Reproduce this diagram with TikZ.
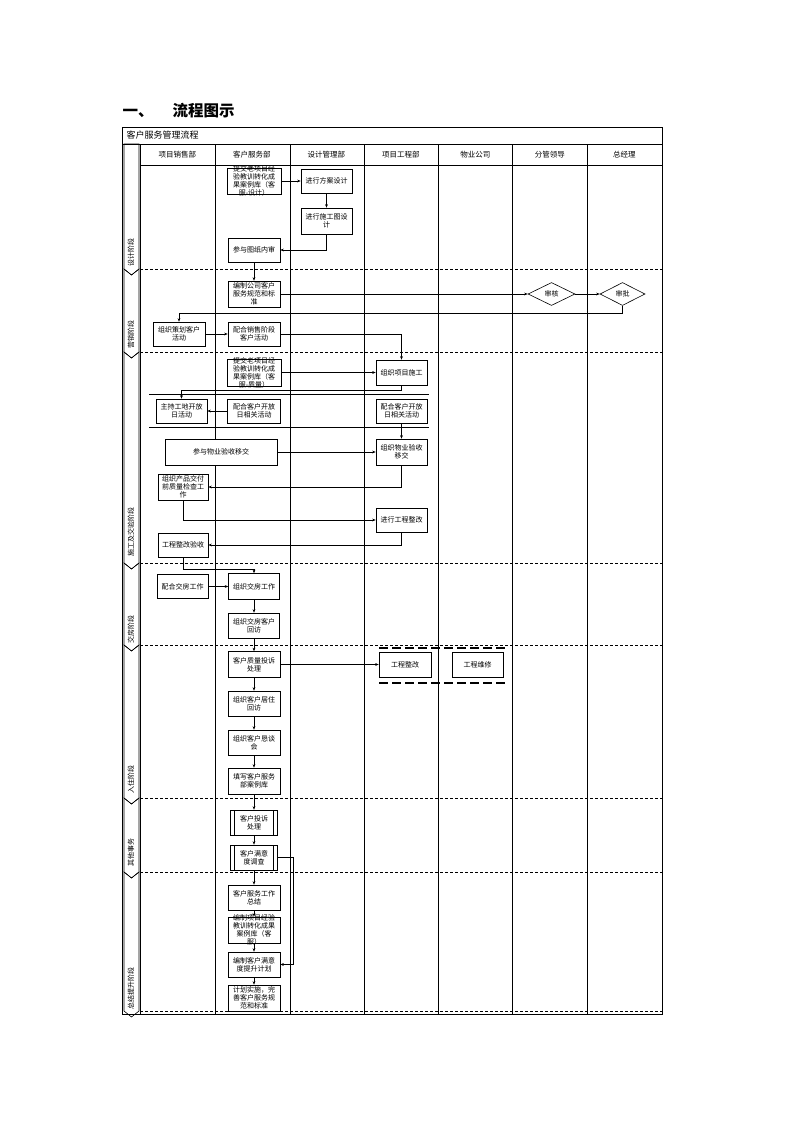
\documentclass[tikz,border=0pt]{standalone}
\usepackage{fontspec}
\setmainfont{Noto Sans CJK SC}
\usepackage{tikz}
\usetikzlibrary{arrows.meta,shapes.geometric}

\begin{document}
\begin{tikzpicture}[x=1pt,y=-1pt,>={Stealth[length=3.5pt,width=2.8pt]}]
\tikzstyle{box}=[draw,fill=white,line width=0.6pt,minimum width=52pt,minimum height=25pt,inner sep=0pt,align=center,font=\fontsize{7}{8}\selectfont]
\tikzstyle{proc}=[box,minimum width=47pt,path picture={
  \draw ([xshift=4pt]path picture bounding box.north west) -- ([xshift=4pt]path picture bounding box.south west);
  \draw ([xshift=-4pt]path picture bounding box.north east) -- ([xshift=-4pt]path picture bounding box.south east);}]
\tikzstyle{dec}=[diamond,draw,fill=white,line width=0.6pt,inner sep=0pt,minimum width=47pt,minimum height=23pt,font=\fontsize{7}{8}\selectfont]
\tikzstyle{over}=[font=\fontsize{7}{8}\selectfont,align=center]
\tikzstyle{head}=[font=\fontsize{7.5}{9}\selectfont]
\tikzstyle{phase}=[rotate=90,font=\fontsize{7}{8}\selectfont]
\tikzstyle{grid}=[line width=0.8pt]
\tikzstyle{stage}=[draw,line width=0.6pt]
\tikzstyle{divider}=[line width=0.8pt,dash pattern=on 3pt off 2pt]
\tikzstyle{flow}=[->,line width=0.5pt]
\useasboundingbox (0,0) rectangle (793,1122);

\node[anchor=west,font=\fontsize{15.5}{18}\selectfont\bfseries] (title) at (119,111) {一、\hspace{19pt}流程图示};

\draw[grid] (122,127) rectangle (662,1014);
\draw[grid] (122,144) -- (662,144);
\draw[grid] (140,165) -- (662,165);
\foreach \x in {140,215,290,364,438,512,587}
  \draw[grid] (\x,144) -- (\x,1014);
\foreach \y in {269,352,563,645,798,872,1011}
  \draw[divider] (140,\y) -- (662,\y);
\draw[line width=0.6pt] (149,394) -- (429,394);
\draw[line width=0.6pt] (149,427) -- (429,427);

\node[anchor=west,font=\fontsize{9}{10}\selectfont] (name) at (123,135.5) {客户服务管理流程};
\foreach \t [count=\i] in {项目销售部,客户服务部,设计管理部,项目工程部,物业公司,分管领导,总经理}
  \node[head] (col\i) at ({140+74.5*(\i-0.5)},154.5) {\t};

\draw[stage] (124,144) -- (139,144) -- (139,269) -- (131.5,275) -- (124,269) -- cycle;
\foreach \t/\b in {269/352,352/563,563/645,645/798,798/872,872/1011}
  \draw[stage] (124,\t) -- (131.5,\t+6) -- (139,\t) -- (139,\b) -- (131.5,\b+6) -- (124,\b) -- cycle;
\node[phase] (p1) at (131,252) {设计阶段};
\node[phase] (p2) at (131,334) {营销阶段};
\node[phase] (p3) at (131,532) {施工及交验阶段};
\node[phase] (p4) at (131,629) {交房阶段};
\node[phase] (p5) at (131,779) {入住阶段};
\node[phase] (p6) at (131,852) {其他事务};
\node[phase] (p7) at (131,988) {总结提升阶段};

\node[box,minimum width=54pt,minimum height=26pt,label={[over]center:{提交老项目经\\验教训转化成\\果案例库（客\\服-设计）}}] (d1) at (254,181) {};
\node[box,minimum width=51pt,minimum height=24pt] (d2) at (326.5,181) {进行方案设计};
\node[box,minimum width=51pt,minimum height=26pt] (d3) at (326.5,221) {进行施工图设\\计};
\node[box,minimum height=24pt] (d4) at (254,250) {参与图纸内审};

\node[box,minimum height=26pt] (m1) at (254,294) {编制公司客户\\服务规范和标\\准};
\node[dec] (m2) at (551.5,294) {审核};
\node[dec,minimum width=45pt] (m3) at (622.5,294) {审批};
\node[box,minimum height=24pt] (m4) at (179,334) {组织策划客户\\活动};
\node[box,minimum height=24pt] (m5) at (254,334) {配合销售阶段\\客户活动};

\node[box,minimum width=54pt,minimum height=27pt,label={[over]center:{提交老项目经\\验教训转化成\\果案例库（客\\服-质量）}}] (c1) at (254,372.5) {};
\node[box,minimum width=51pt] (c2) at (401.5,372.5) {组织项目施工};
\node[box,minimum width=51pt,minimum height=24pt] (c3) at (181.5,411) {主持工地开放\\日活动};
\node[box,minimum width=53pt,minimum height=24pt] (c4) at (254,411) {配合客户开放\\日相关活动};
\node[box,minimum width=51pt,minimum height=24pt] (c5) at (401.5,411) {配合客户开放\\日相关活动};
\node[box,minimum width=112pt,minimum height=26pt] (c6) at (221,452) {参与物业验收移交};
\node[box,minimum width=51pt,minimum height=26pt] (c7) at (401.5,452) {组织物业验收\\移交};
\node[box,minimum width=50pt,minimum height=26pt] (c8) at (183,487) {组织产品交付\\前质量检查工\\作};
\node[box,minimum width=51pt,minimum height=24pt] (c9) at (401.5,520) {进行工程整改};
\node[box,minimum width=50pt,minimum height=24pt] (c10) at (183,545) {工程整改验收};

\node[box,minimum width=51pt,minimum height=24pt] (h1) at (182.5,586.5) {配合交房工作};
\node[box,minimum width=51pt,minimum height=26pt] (h2) at (254,586.5) {组织交房工作};
\node[box,minimum width=51pt] (h3) at (254,625.5) {组织交房客户\\回访};

\node[box,minimum height=26pt] (o1) at (254,664.5) {客户质量投诉\\处理};
\node[box,minimum width=52pt] (o2) at (405,664.5) {工程整改};
\node[box,minimum width=51pt] (o3) at (477.5,664.5) {工程维修};
\node[box] (o4) at (254,703.5) {组织客户居住\\回访};
\node[box] (o5) at (254,742.5) {组织客户恳谈\\会};
\node[box,minimum height=26pt] (o6) at (254,781) {填写客户服务\\部案例库};
\draw[line width=1.1pt,dash pattern=on 9pt off 4pt] (379,648) -- (505,648);
\draw[line width=1.1pt,dash pattern=on 9pt off 4pt] (379,683) -- (505,683);

\node[proc] (e1) at (254,822.5) {客户投诉\\处理};
\node[proc] (e2) at (254,857.5) {客户满意\\度调查};

\node[box] (s1) at (254,897.5) {客户服务工作\\总结};
\node[box,minimum height=26pt,label={[over]center:{编制项目经验\\教训转化成果\\案例库（客\\服）}}] (s2) at (254,930) {};
\node[box] (s3) at (254,964.5) {编制客户满意\\度提升计划};
\node[box,minimum height=26pt] (s4) at (254,998) {计划实施，完\\善客户服务规\\范和标准};

\draw[flow] (d1) -- (d2);
\draw[flow] (d2) -- (d3);
\draw[flow] (d3.south) |- (d4.east);
\draw[flow] (d4) -- (m1);
\draw[flow] (m1) -- (m2);
\draw[flow] (m2) -- (m3);
\draw[flow] (m3.south) -- ++(0,7) -| (m4.north);
\draw[flow] (m4) -- (m5);
\draw[flow] (m5.east) -| (c2.north);
\draw[flow] (c1) -- (c2);
\draw[flow] (c2.south) -- ++(0,5) -| (c3.north);
\draw[flow] (c4) -- (c3);
\draw[flow] (c5) -- (c7);
\draw[flow] (c6) -- (c7);
\draw[flow] (c7.south) |- (c8.east);
\draw[flow] (c8.south) |- (c9.west);
\draw[flow] (c9.south) |- (c10.east);
\draw[flow] (c10.south) -- ++(0,12) -| (h2.north);
\draw[flow] (h1) -- (h2);
\draw[flow] (h2) -- (h3);
\draw[flow] (h3) -- (o1);
\draw[flow] (o1) -- (o2);
\draw[flow] (o1) -- (o4);
\draw[flow] (o4) -- (o5);
\draw[flow] (o5) -- (o6);
\draw[flow] (o6) -- (e1);
\draw[flow] (e1) -- (e2);
\draw[flow] (e2) -- (s1);
\draw[flow] (e2.east) -- ++(15,0) |- (s3.east);
\draw[flow] (s1) -- (s2);
\draw[flow] (s2) -- (s3);
\draw[flow] (s3) -- (s4);
\end{tikzpicture}
\end{document}
